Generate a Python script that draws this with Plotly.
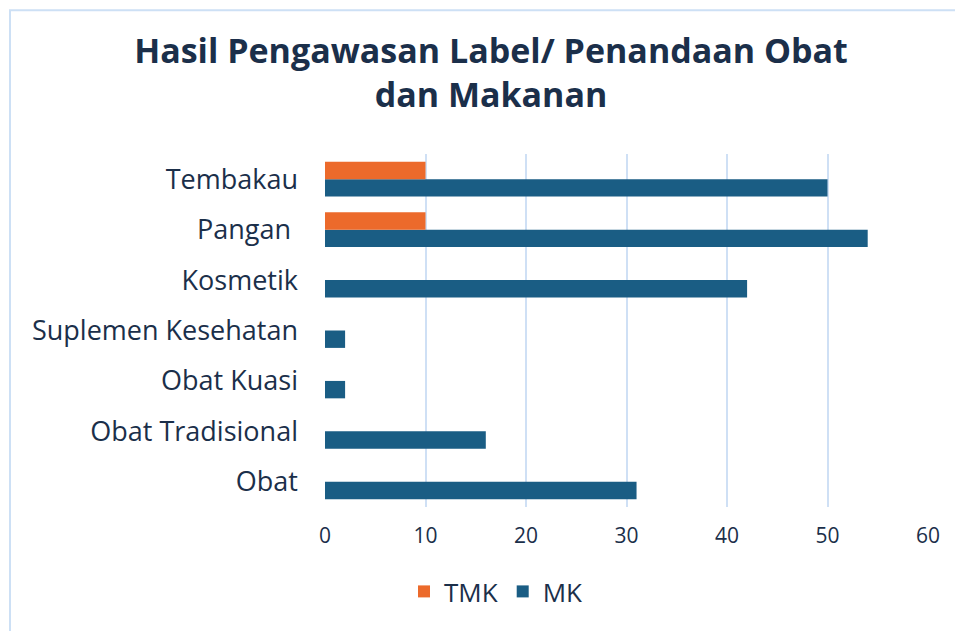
import plotly.graph_objects as go

# Categories listed bottom-to-top as they appear on the y axis
categories = ["Obat", "Obat Tradisional", "Obat Kuasi", "Suplemen Kesehatan",
              "Kosmetik", "Pangan ", "Tembakau"]
tmk_values = [0, 0, 0, 0, 0, 10, 10]
mk_values = [31, 16, 2, 2, 42, 54, 50]
x_ticks = [0, 10, 20, 30, 40, 50, 60]

TEXT = "#1b2f4a"
FONT = "Open Sans"
GRID = "#cfe0f5"
OFF = 8  # page body margin offset

fig = go.Figure()
fig.add_trace(go.Bar(name="MK", y=categories, x=mk_values, orientation="h",
                     marker=dict(color="#1a5d84", line=dict(width=0)), legendrank=2))
fig.add_trace(go.Bar(name="TMK", y=categories, x=tmk_values, orientation="h",
                     marker=dict(color="#ec6a2b", line=dict(width=0)), legendrank=1))

pl, pr, pt, pb = 325 - OFF, 928 - OFF, 154 - OFF, 507.5 - OFF

fig.update_layout(
    width=963, height=631,
    paper_bgcolor="white", plot_bgcolor="white",
    margin=dict(l=pl, r=963 - pr, t=pt, b=631 - pb),
    barmode="group", bargap=0.31, bargroupgap=0,
    font=dict(family=FONT, color=TEXT),
    title=dict(text="<b>Hasil Pengawasan Label/ Penandaan Obat<br>dan Makanan</b>",
               x=(491 - OFF) / 963, xanchor="center", xref="container",
               y=1 - 55 / 631, yanchor="top", yref="container",
               font=dict(family=FONT, size=34, color=TEXT)),
    xaxis=dict(range=[0, 60], tickvals=x_ticks, showgrid=True, gridcolor=GRID,
               gridwidth=1.5, zeroline=False, showline=False,
               tickfont=dict(family=FONT, size=21, color=TEXT),
               ticks="", ticklabelstandoff=14, fixedrange=True),
    yaxis=dict(type="category", categoryorder="array", categoryarray=categories,
               showgrid=False, zeroline=False, showline=False, ticks="",
               tickfont=dict(family=FONT, size=27, color=TEXT),
               ticklabelstandoff=26, range=[-0.5, 6.5]),
    legend=dict(orientation="h", x=(496 - OFF) / 963, xref="container", xanchor="center",
                y=1 - (568 - OFF) / 631, yref="container", yanchor="top",
                font=dict(family=FONT, size=26, color=TEXT),
                itemwidth=30, traceorder="normal"),
    showlegend=True,
)

# light frame around the chart (left & top edges visible)
fig.add_shape(type="rect", xref="paper", yref="paper",
              x0=(10 - OFF - pl) / (pr - pl), x1=2.0, y0=-1.0,
              y1=(pb - (10 - OFF)) / (pb - pt),
              line=dict(color="#cde0f5", width=2), fillcolor="rgba(0,0,0,0)",
              layer="below")

fig.write_html("out.html")
